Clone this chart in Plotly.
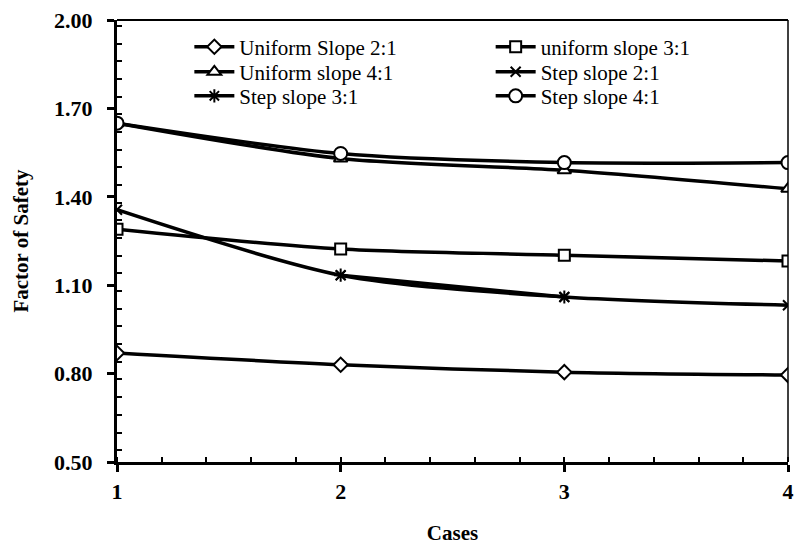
import plotly.graph_objects as go

cases = [1, 2, 3, 4]
uniform_2_1 = [0.87, 0.83, 0.805, 0.795]
uniform_3_1 = [1.29, 1.223, 1.202, 1.182]
uniform_4_1 = [1.65, 1.53, 1.49, 1.427]
step_2_1 = [1.356, 1.134, 1.06, 1.032]
step_3_1 = [None, 1.134, 1.06, None]
step_4_1 = [1.65, 1.547, 1.516, 1.516]

# name, values, symbol, size, fill colour, legend id
series = [
    ("Uniform Slope 2:1", uniform_2_1, "diamond", 11, "white", "legend"),
    ("uniform slope 3:1", uniform_3_1, "square", 11, "white", "legend2"),
    ("Uniform slope 4:1", uniform_4_1, "triangle-up", 12, "white", "legend3"),
    ("Step slope 2:1", step_2_1, "x-thin-open", 10, "black", "legend4"),
    ("Step slope 3:1", step_3_1, "asterisk-open", 11, "black", "legend5"),
    ("Step slope 4:1", step_4_1, "circle", 13, "white", "legend6"),
]

fig = go.Figure()
for name, vals, sym, size, fill, leg in series:
    fig.add_trace(go.Scatter(
        x=cases, y=vals, name=name, mode="lines+markers",
        connectgaps=True, legend=leg,
        line=dict(color="black", width=3.5, shape="spline", smoothing=0.8),
        marker=dict(symbol=sym, size=size, color=fill,
                    line=dict(color="black", width=2)),
    ))

font_family = "Liberation Serif"

def row_y(py):
    return 1 - (py - 20) / 441.0

def col_x(px):
    return (px - 117) / 677.0

legend_pos = {
    "legend": (col_x(190), row_y(47)),
    "legend2": (col_x(494), row_y(47)),
    "legend3": (col_x(190), row_y(72)),
    "legend4": (col_x(494), row_y(72)),
    "legend5": (col_x(190), row_y(96)),
    "legend6": (col_x(494), row_y(96)),
}
legend_layout = {}
for key, (lx, ly) in legend_pos.items():
    legend_layout[key] = dict(
        x=lx, y=ly, xanchor="left", yanchor="middle",
        font=dict(family=font_family, size=21, color="black"),
        bgcolor="rgba(0,0,0,0)", itemwidth=40,
    )

fig.update_layout(
    width=801, height=551,
    margin=dict(l=117, r=7, t=20, b=89),
    paper_bgcolor="white", plot_bgcolor="white",
    font=dict(family=font_family, color="black"),
    showlegend=True,
    **legend_layout,
    xaxis=dict(
        range=[1, 4], tickmode="array", tickvals=cases,
        ticktext=[str(c) for c in cases],
        showgrid=False, zeroline=False,
        showline=True, linecolor="black", linewidth=3,
        ticks="outside", ticklen=7, tickwidth=3, tickcolor="black",
        ticklabelstandoff=1,
        minor=dict(dtick=0.2, ticks="inside", ticklen=5, tickwidth=2, tickcolor="black"),
        tickfont=dict(family=font_family, size=22, color="black", weight="bold"),
        title=dict(text="<b>Cases</b>", font=dict(family=font_family, size=21, color="black"), standoff=22),
    ),
    yaxis=dict(
        range=[0.5, 2.0], tickmode="linear", tick0=0.5, dtick=0.3, tickformat=".2f",
        showgrid=False, zeroline=False,
        showline=True, linecolor="black", linewidth=3,
        ticks="outside", ticklen=7, tickwidth=3, tickcolor="black",
        ticklabelstandoff=10,
        minor=dict(dtick=0.06, ticks="inside", ticklen=5, tickwidth=2, tickcolor="black"),
        tickfont=dict(family=font_family, size=22, color="black", weight="bold"),
        title=dict(text="<b>Factor of Safety</b>", font=dict(family=font_family, size=21, color="black"), standoff=20),
    ),
    shapes=[
        dict(type="line", xref="paper", yref="paper", x0=0, x1=1, y0=1, y1=1,
             line=dict(color="black", width=2)),
        dict(type="line", xref="paper", yref="paper", x0=1, x1=1, y0=0, y1=1,
             line=dict(color="black", width=1.5)),
    ],
)

fig.write_html("out.html")
